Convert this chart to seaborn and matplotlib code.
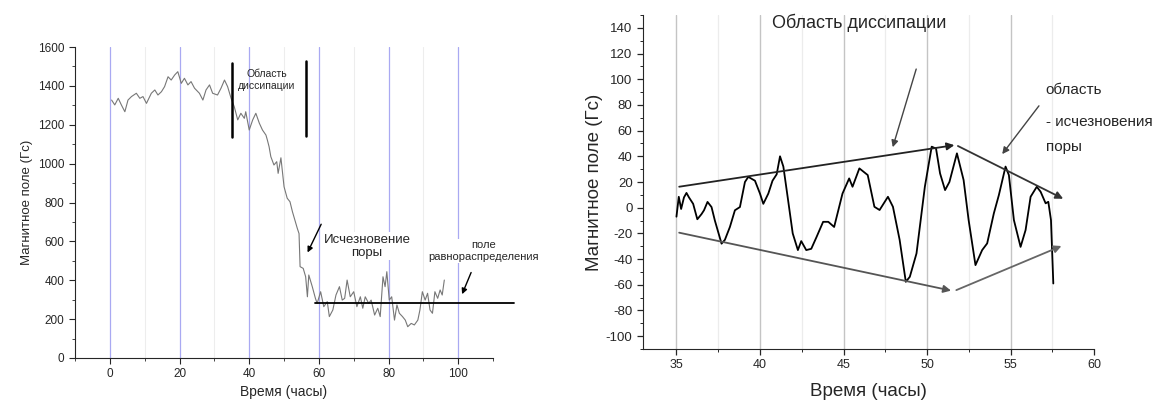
import numpy as np
import pandas as pd
import matplotlib
matplotlib.use('Agg')
import matplotlib.pyplot as plt
import seaborn as sns
from matplotlib.ticker import MultipleLocator

sns.set_style('ticks')
plt.rcParams['font.family'] = ['Liberation Sans', 'DejaVu Sans']
plt.rcParams['axes.unicode_minus'] = False

# left panel: whole run, 0..96 h
left_time = [0.5, 1.4, 2.4, 3.3, 4.3, 5.2, 6.2, 7.6, 8.6, 9.5, 10.5, 11.9, 12.9,
             13.8, 14.8, 15.7, 16.7, 17.6, 18.6, 19.5, 20.5, 21.4, 22.4, 23.3,
             24.3, 25.7, 26.7, 27.6, 28.6, 29.5, 30.9, 31.9, 32.9, 33.8, 34.8,
             35.7, 36.7, 37.6, 38.6, 39.0, 40.0, 41.0, 41.9, 42.9, 43.8, 44.8,
             45.2, 45.7, 46.2, 47.1, 47.9, 48.3, 49.1, 50.0, 50.9, 51.7, 52.4,
             53.1, 53.8, 54.3, 54.6, 55.5, 56.2, 56.7, 57.1, 58.1, 59.0, 59.5,
             60.5, 61.4, 62.4, 63.0, 64.0,
             64.9, 65.9, 66.7, 67.4, 68.1, 69.0, 70.0, 70.9, 71.9, 72.6, 73.3,
             74.3, 75.0, 76.0, 76.9, 77.6, 78.4, 79.0, 79.5, 80.2, 80.9, 81.7,
             82.4, 83.1, 84.0, 84.8, 85.5, 86.5, 87.4, 88.4, 89.0, 89.7, 90.5,
             91.2, 91.9, 92.6, 93.3, 94.1, 94.8, 95.4, 96.0]
left_field = [1327, 1302, 1336, 1302, 1267, 1327, 1345, 1362, 1336, 1345, 1310,
              1362, 1379, 1353, 1370, 1396, 1447, 1430, 1456, 1473, 1413, 1439,
              1405, 1422, 1388, 1362, 1327, 1379, 1405, 1362, 1353, 1388, 1430,
              1396, 1336, 1293, 1225, 1259, 1233, 1267, 1173, 1225, 1259, 1208,
              1173, 1147,
              1122, 1087, 1036, 993, 1010, 950, 1030, 881, 822, 804, 753,
              710, 667, 640, 470, 461, 418, 315, 427, 367, 307, 281,
              341, 264, 290, 213, 247, 324,
              367, 298, 307, 401, 315, 341, 264, 315, 256, 315, 281, 298, 221,
              256, 213, 418, 367, 444, 298, 315, 195, 273, 230, 213, 195, 161,
              178, 170, 195, 247, 341, 298, 333, 247, 230, 341, 307, 350, 324,
              401]
equilibrium_level = 285

# right panel: dissipation region, 35..57.5 h
right_time = [35.0, 35.14, 35.28, 35.45, 35.6, 35.75, 36.0, 36.25, 36.5, 36.65,
              36.86, 37.1, 37.3, 37.7, 37.9, 38.2, 38.5, 38.8, 39.1, 39.3, 39.7,
              40.0, 40.2, 40.5, 40.75, 41.0, 41.2, 41.4, 41.66, 41.96, 42.27,
              42.47, 42.77, 43.07, 43.38, 43.78, 44.09, 44.44, 44.94, 45.34,
              45.54, 45.95, 46.45, 46.85, 47.16, 47.66, 47.96, 48.36, 48.73,
              48.97, 49.37, 49.87, 50.28, 50.54, 50.78, 51.08, 51.34, 51.79,
              52.19, 52.49, 52.9, 53.3, 53.6, 54.0, 54.3, 54.7, 54.9, 55.2,
              55.6, 55.9, 56.2, 56.57, 56.8, 57.1, 57.26, 57.42, 57.56]
right_field = [-7, 8.5, -1, 8, 11.5, 8, 3, -9, -5, -2, 4.5, 0.5, -10, -28, -25,
               -15, -2, 0.5, 20, 24, 21, 11, 3, 11, 21, 26, 40, 32, 8, -20, -33,
               -26, -33, -32, -23, -11, -11, -15, 11, 22.8, 16.3, 30.6, 25.4,
               0.7, -1.8, 8.5, 0.7, -25, -57.7, -53.8, -35.6, 16.3, 47.5, 46,
               26.7, 13.7, 20, 42.3, 21.5, -9.6, -44.7, -33, -27.8, -4.4, 9.8,
               32, 25.4, -9.6, -30.5, -17.4, 8.5, 16.3, 12.4, 3.4, 4.6, -9.6,
               -59]

left_df = pd.DataFrame({'t': left_time, 'B': left_field})
right_df = pd.DataFrame({'t': right_time, 'B': right_field})

fig = plt.figure(figsize=(11.58, 4.0), dpi=100)
ax1 = fig.add_axes([0.0648, 0.105, 0.361, 0.7775])
ax2 = fig.add_axes([0.5553, 0.1275, 0.3895, 0.835])

# ---- left panel ----
for x in range(10, 100, 20):
    ax1.axvline(x, color='#ededed', lw=0.8, zorder=0)
for x in range(0, 101, 20):
    ax1.axvline(x, color='#a9a9f2', lw=0.9, zorder=0)
sns.lineplot(data=left_df, x='t', y='B', ax=ax1, color='#777777', lw=0.8,
             estimator=None, sort=False)
ax1.plot([59, 116], [equilibrium_level, equilibrium_level], color='black',
         lw=1.3, clip_on=False)
ax1.plot([35, 35], [1135, 1516], color='black', lw=1.8)
ax1.plot([56.4, 56.4], [1142, 1528], color='black', lw=1.8)
ax1.text(45, 1430, 'Область\nдиссипации', ha='center', va='center',
         fontsize=7.5, linespacing=1.3)
ax1.annotate('', xy=(56.4, 530), xytext=(61, 701),
             arrowprops=dict(arrowstyle='-|>', color='black', lw=1.0,
                             mutation_scale=8))
ax1.text(73.8, 575, 'Исчезновение\nпоры', ha='center', va='center',
         fontsize=9.5, linespacing=1.15,
         bbox=dict(facecolor='white', edgecolor='none', pad=1))
ax1.text(107.3, 550, 'поле\nравнораспределения', ha='center', va='center',
         fontsize=8, linespacing=1.3, clip_on=False,
         bbox=dict(facecolor='white', edgecolor='none', pad=0.5))
ax1.annotate('', xy=(100.8, 315), xytext=(104, 453),
             arrowprops=dict(arrowstyle='-|>', color='black', lw=1.0,
                             mutation_scale=8))
ax1.set_xlim(-10, 110)
ax1.set_ylim(0, 1600)
ax1.xaxis.set_major_locator(MultipleLocator(20))
ax1.xaxis.set_minor_locator(MultipleLocator(10))
ax1.yaxis.set_major_locator(MultipleLocator(200))
ax1.yaxis.set_minor_locator(MultipleLocator(100))
ax1.tick_params(labelsize=8.5, width=0.8, length=4)
ax1.tick_params(which='minor', width=0.6, length=2.5)
ax1.set_xlabel('Время (часы)', fontsize=10, labelpad=3)
ax1.set_ylabel('Магнитное поле (Гс)', fontsize=9.5)
sns.despine(ax=ax1)

# ---- right panel ----
for x in np.arange(37.5, 58, 5):
    ax2.axvline(x, color='#ececec', lw=0.9, zorder=0)
for x in range(35, 56, 5):
    ax2.axvline(x, color='#c4c4c4', lw=1.0, zorder=0)
sns.lineplot(data=right_df, x='t', y='B', ax=ax2, color='black', lw=1.3,
             estimator=None, sort=False)
arrow = dict(arrowstyle='-|>', lw=1.3, mutation_scale=11)
ax2.annotate('', xy=(51.8, 49), xytext=(35, 16),
             arrowprops=dict(arrow, color='#222222'))
ax2.annotate('', xy=(58.3, 6), xytext=(51.7, 49),
             arrowprops=dict(arrow, color='#333333'))
ax2.annotate('', xy=(51.6, -65), xytext=(35, -19),
             arrowprops=dict(arrow, color='#555555'))
ax2.annotate('', xy=(58.2, -29), xytext=(51.6, -65),
             arrowprops=dict(arrow, color='#666666'))
ax2.annotate('', xy=(47.9, 45), xytext=(49.4, 110),
             arrowprops=dict(arrowstyle='-|>', color='#444444', lw=1.0,
                             mutation_scale=10))
ax2.annotate('', xy=(54.4, 40), xytext=(56.8, 81),
             arrowprops=dict(arrowstyle='-|>', color='#444444', lw=1.0,
                             mutation_scale=10))
ax2.text(40.7, 144, 'Область диссипации', fontsize=13, va='center')
ax2.text(57.1, 92, 'область', fontsize=11, va='center')
ax2.text(57.1, 67, '- исчезновения', fontsize=11, va='center', clip_on=False)
ax2.text(57.1, 47, 'поры', fontsize=11, va='center')
ax2.set_xlim(33, 60)
ax2.set_ylim(-110, 150)
ax2.xaxis.set_major_locator(MultipleLocator(5))
ax2.xaxis.set_minor_locator(MultipleLocator(2.5))
ax2.yaxis.set_minor_locator(MultipleLocator(10))
ax2.set_yticks(range(-100, 141, 20))
ax2.tick_params(labelsize=9.5, width=0.9, length=4)
ax2.tick_params(axis='x', labelsize=9)
ax2.tick_params(which='minor', width=0.7, length=2.5)
ax2.set_xlabel('Время (часы)', fontsize=13.5, labelpad=8)
ax2.set_ylabel('Магнитное поле (Гс)', fontsize=13.5, labelpad=2)
sns.despine(ax=ax2)

fig.savefig('out.png', dpi=100)
